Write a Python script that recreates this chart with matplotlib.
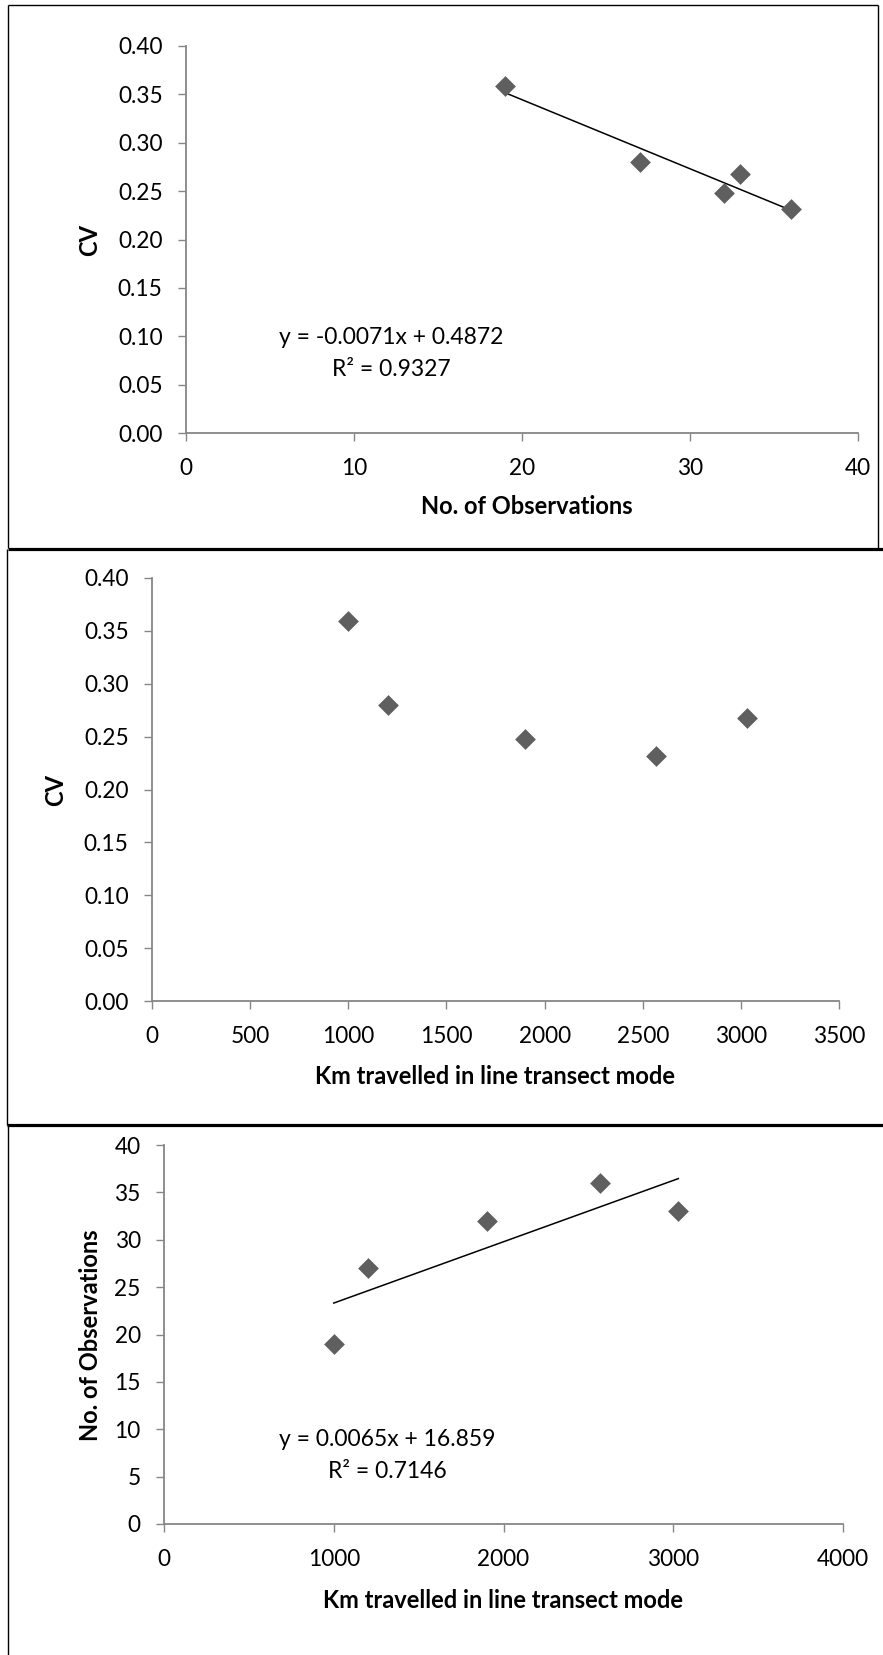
import numpy as np
import matplotlib
matplotlib.use("Agg")
import matplotlib.pyplot as plt
from matplotlib.lines import Line2D

plt.rcParams['font.family'] = ['Lato', 'DejaVu Sans']

# ---- data ----
obs = [19, 27, 32, 33, 36]
cv_obs = [0.359, 0.280, 0.248, 0.268, 0.232]
km = [1000, 1200, 1900, 2570, 3030]
cv_km = [0.359, 0.280, 0.248, 0.232, 0.268]
obs_km = [19, 27, 32, 36, 33]

eq1 = "y = -0.0071x + 0.4872"
r1 = "R\u00b2 = 0.9327"
eq3 = "y = 0.0065x + 16.859"
r3 = "R\u00b2 = 0.7146"

W, H = 883, 1655
DPI = 100
fig = plt.figure(figsize=(W / DPI, H / DPI), dpi=DPI)

AX_GRAY = '#868686'
MK = '#5f5f5f'
TICK_FS = 16.3
EQ_FS = 16.5
LAB_FS = 17
MS = 112


def make_ax(l, r, t, b):
    ax = fig.add_axes([l / W, 1 - b / H, (r - l) / W, (b - t) / H])
    for s in ['top', 'right']:
        ax.spines[s].set_visible(False)
    for s in ['left', 'bottom']:
        ax.spines[s].set_color(AX_GRAY)
        ax.spines[s].set_linewidth(1.3)
    ax.tick_params(axis='both', direction='out', length=5.8, width=1.0,
                   color=AX_GRAY, labelsize=TICK_FS, labelcolor='black')
    ax.tick_params(axis='y', pad=11)
    ax.tick_params(axis='x', pad=12)
    return ax


def px_label(ax, l, r, t, b, xl, yl, xpos, ypos):
    ax.set_xlabel(xl, fontsize=LAB_FS, fontweight='bold')
    ax.set_ylabel(yl, fontsize=LAB_FS, fontweight='bold')
    ax.xaxis.set_label_coords((xpos[0] - l) / (r - l), (b - xpos[1]) / (b - t))
    ax.xaxis.label.set_va('center')
    ax.yaxis.set_label_coords((ypos[0] - l) / (r - l), (b - ypos[1]) / (b - t))
    ax.yaxis.label.set_va('center')


def trend(ax, x, y):
    c = np.polyfit(x, y, 1)
    xs = np.array([min(x), max(x)])
    ax.plot(xs, np.polyval(c, xs), color='black', lw=1.1, zorder=2)


# ---- panel 1 ----
l, r, t, b = 186, 858, 46, 433
ax1 = make_ax(l, r, t, b)
ax1.scatter(obs, cv_obs, marker='D', s=MS, color=MK, zorder=3, linewidths=0)
trend(ax1, obs, cv_obs)
ax1.set_xlim(0, 40)
ax1.set_ylim(0, 0.40)
ax1.set_xticks(range(0, 41, 10))
ax1.set_yticks(np.arange(0, 0.401, 0.05))
ax1.set_yticklabels([f"{v:.2f}" for v in np.arange(0, 0.401, 0.05)])
px_label(ax1, l, r, t, b, "No. of Observations", "CV", (527, 507), (90, 240))
ax1.text((391 - l) / (r - l), (b - 337) / (b - t), eq1, transform=ax1.transAxes,
         ha='center', va='center', fontsize=EQ_FS)
ax1.text((391 - l) / (r - l), (b - 370) / (b - t), r1, transform=ax1.transAxes,
         ha='center', va='center', fontsize=EQ_FS)

# ---- panel 2 ----
l, r, t, b = 152, 839, 578, 1001
ax2 = make_ax(l, r, t, b)
ax2.scatter(km, cv_km, marker='D', s=MS, color=MK, zorder=3, linewidths=0)
ax2.set_xlim(0, 3500)
ax2.set_ylim(0, 0.40)
ax2.set_xticks(range(0, 3501, 500))
ax2.set_yticks(np.arange(0, 0.401, 0.05))
ax2.set_yticklabels([f"{v:.2f}" for v in np.arange(0, 0.401, 0.05)])
px_label(ax2, l, r, t, b, "Km travelled in line transect mode", "CV", (495, 1076), (56, 790))

# ---- panel 3 ----
l, r, t, b = 164, 843, 1145, 1524
ax3 = make_ax(l, r, t, b)
ax3.scatter(km, obs_km, marker='D', s=MS, color=MK, zorder=3, linewidths=0)
trend(ax3, km, obs_km)
ax3.set_xlim(0, 4000)
ax3.set_ylim(0, 40)
ax3.set_xticks(range(0, 4001, 1000))
ax3.set_yticks(range(0, 41, 5))
px_label(ax3, l, r, t, b, "Km travelled in line transect mode", "No. of Observations",
         (503, 1600), (90, 1335))
ax3.text((387 - l) / (r - l), (b - 1439) / (b - t), eq3, transform=ax3.transAxes,
         ha='center', va='center', fontsize=EQ_FS)
ax3.text((387 - l) / (r - l), (b - 1471) / (b - t), r3, transform=ax3.transAxes,
         ha='center', va='center', fontsize=EQ_FS)


# ---- panel borders (figure pixel coords) ----
def fline(x0, y0, x1, y1, lw):
    fig.add_artist(Line2D([x0 / W, x1 / W], [1 - y0 / H, 1 - y1 / H],
                          transform=fig.transFigure, color='black', lw=lw,
                          solid_capstyle='butt'))


thin = 1.0
thick = 2.3
# panel 1
fline(8, 5, 878, 5, thin)
fline(8, 5, 8, 548, thin)
fline(878, 5, 878, 548, thin)
fline(8, 548.5, 883, 548.5, thick)
# panel 2
fline(6.5, 549, 6.5, 1125, thin)
fline(6.5, 1125, 883, 1125, thick)
# panel 3
fline(8, 1125, 8, 1655, thin)

fig.savefig("out.png", dpi=DPI)
